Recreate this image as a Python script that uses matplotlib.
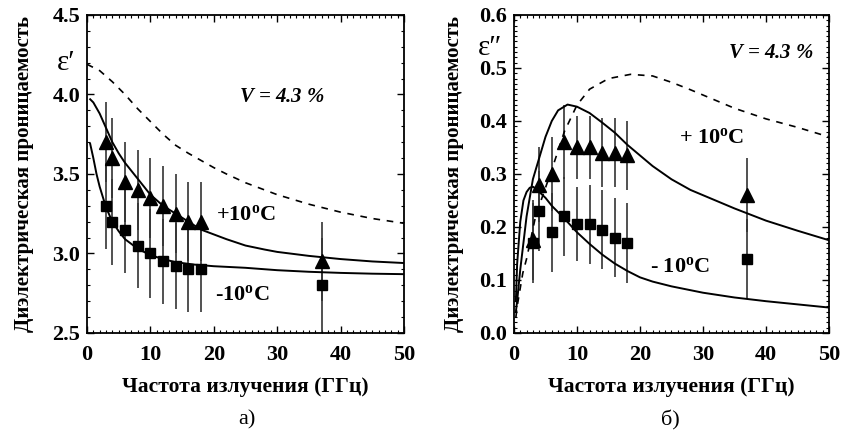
import matplotlib
matplotlib.use("Agg")
import matplotlib.pyplot as plt
from matplotlib.ticker import MultipleLocator, FormatStrFormatter

plt.rcParams['font.family'] = ['Liberation Serif', 'DejaVu Serif']
plt.rcParams['mathtext.fontset'] = 'custom'
plt.rcParams['mathtext.rm'] = 'Liberation Serif:bold'
plt.rcParams['mathtext.bf'] = 'Liberation Serif:bold'
plt.rcParams['mathtext.it'] = 'Liberation Serif:bold:italic'

# ---------------- data ----------------
freq_pts = [3, 4, 6, 8, 10, 12, 14, 16, 18, 37]

# panel a (real part)
a_plus_vals = [3.70, 3.60, 3.45, 3.40, 3.35, 3.30, 3.25, 3.20, 3.20, 2.95]
a_plus_err = [0.25, 0.25, 0.25, 0.25, 0.25, 0.25, 0.25, 0.25, 0.25, 0.25]
a_minus_vals = [3.30, 3.20, 3.15, 3.05, 3.00, 2.95, 2.92, 2.90, 2.90, 2.80]
a_minus_err = [0.27, 0.27, 0.27, 0.27, 0.28, 0.27, 0.27, 0.27, 0.27, 0.30]

a_plus_curve_f = [0.5, 1, 2, 3, 4, 5, 6, 8, 10, 12, 14, 16, 18, 20, 22, 25, 28, 30, 35, 40, 45, 50]
a_plus_curve_v = [3.97, 3.95, 3.88, 3.79, 3.70, 3.63, 3.57, 3.47, 3.37, 3.30, 3.25, 3.20, 3.15, 3.12, 3.09, 3.05, 3.025, 3.01, 2.985, 2.965, 2.95, 2.94]
a_minus_curve_f = [0.5, 1, 1.5, 2, 3, 4, 5, 6, 8, 10, 12, 14, 17, 20, 25, 30, 35, 40, 45, 50]
a_minus_curve_v = [3.69, 3.60, 3.50, 3.42, 3.29, 3.20, 3.14, 3.09, 3.03, 2.99, 2.965, 2.945, 2.93, 2.92, 2.91, 2.895, 2.885, 2.878, 2.873, 2.87]
a_dash_f = [0, 2, 4, 6, 8, 10, 12, 14, 16, 18, 20, 22, 25, 28, 30, 35, 40, 45, 50]
a_dash_v = [4.19, 4.15, 4.08, 4.00, 3.91, 3.83, 3.75, 3.68, 3.63, 3.585, 3.54, 3.50, 3.445, 3.40, 3.37, 3.31, 3.26, 3.22, 3.19]

# panel b (imaginary part)
b_plus_vals = [0.175, 0.28, 0.30, 0.36, 0.35, 0.35, 0.34, 0.34, 0.335, 0.26]
b_plus_err = [0.075, 0.07, 0.07, 0.07, 0.06, 0.06, 0.065, 0.065, 0.065, 0.07]
b_minus_vals = [0.17, 0.23, 0.19, 0.22, 0.205, 0.205, 0.195, 0.18, 0.17, 0.14]
b_minus_err = [0.075, 0.075, 0.075, 0.075, 0.07, 0.075, 0.075, 0.075, 0.075, 0.075]

b_plus_curve_f = [0.3, 0.5, 1, 1.5, 2, 3, 4, 5, 6, 7, 8.5, 10, 12, 14, 16, 18, 20, 22, 25, 28, 30, 35, 40, 45, 50]
b_plus_curve_v = [0.04, 0.06, 0.12, 0.17, 0.22, 0.29, 0.33, 0.37, 0.40, 0.42, 0.431, 0.427, 0.415, 0.397, 0.378, 0.355, 0.335, 0.315, 0.29, 0.27, 0.26, 0.235, 0.212, 0.193, 0.175]
b_minus_curve_f = [0.3, 0.5, 1, 1.5, 2, 2.5, 3, 3.5, 5, 6, 8, 10, 12, 14, 16, 18, 20, 22, 25, 30, 35, 40, 45, 50]
b_minus_curve_v = [0.06, 0.13, 0.21, 0.25, 0.266, 0.274, 0.276, 0.272, 0.255, 0.24, 0.216, 0.19, 0.168, 0.148, 0.131, 0.117, 0.105, 0.097, 0.088, 0.076, 0.067, 0.06, 0.054, 0.048]
b_dash_f = [0.3, 0.6, 1.4, 2, 3.3, 4, 6, 8, 10, 12, 15, 18.5, 22, 25, 28, 30, 33, 35, 40, 45, 50]
b_dash_v = [0.03, 0.057, 0.113, 0.14, 0.213, 0.24, 0.308, 0.38, 0.43, 0.46, 0.48, 0.488, 0.485, 0.473, 0.459, 0.449, 0.434, 0.424, 0.404, 0.388, 0.37]

# ---------------- figure ----------------
fig = plt.figure(figsize=(8.43, 4.37), dpi=100)
ax1 = fig.add_axes([0.1032, 0.238, 0.376, 0.7277])
ax2 = fig.add_axes([0.6097, 0.238, 0.3737, 0.7277])

err_kw = dict(fmt='none', ecolor='#333333', elinewidth=1.2, capsize=0)

def style(ax, ylabpad):
    ax.tick_params(which='both', direction='in', top=True, right=True)
    ax.tick_params(which='major', length=5, width=1.0, labelsize=16)
    ax.tick_params(axis='x', which='major', pad=9)
    ax.tick_params(axis='y', which='major', pad=5)
    ax.tick_params(which='minor', length=2.5, width=0.8)
    for s in ax.spines.values():
        s.set_linewidth(1.3)
    for lab in ax.get_xticklabels() + ax.get_yticklabels():
        lab.set_fontweight('bold')
    ax.set_xlabel('Частота излучения (ГГц)', fontsize=15.5, fontweight='bold', labelpad=8)
    ax.set_ylabel('Диэлектрическая проницаемость', fontsize=15, fontweight='bold', labelpad=ylabpad)

def panel(ax, pv, pe, mv, me, pf, pc, mf, mc, df, dc):
    ax.errorbar(freq_pts, pv, yerr=pe, **err_kw)
    ax.errorbar(freq_pts, mv, yerr=me, **err_kw)
    ax.plot(df, dc, color='black', lw=1.2, ls=(0, (4, 4)))
    ax.plot(pf, pc, color='black', lw=1.4)
    ax.plot(mf, mc, color='black', lw=1.4)
    ax.plot(freq_pts, pv, ls='none', marker='^', ms=10, color='black')
    ax.plot(freq_pts, mv, ls='none', marker='s', ms=7, color='black')
    ax.set_xlim(0, 50)
    ax.xaxis.set_major_locator(MultipleLocator(10))
    ax.xaxis.set_minor_locator(MultipleLocator(1))
    ax.yaxis.set_major_formatter(FormatStrFormatter('%.1f'))

# panel a
panel(ax1, a_plus_vals, a_plus_err, a_minus_vals, a_minus_err,
      a_plus_curve_f, a_plus_curve_v, a_minus_curve_f, a_minus_curve_v, a_dash_f, a_dash_v)
ax1.set_ylim(2.5, 4.5)
ax1.yaxis.set_major_locator(MultipleLocator(0.5))
ax1.yaxis.set_minor_locator(MultipleLocator(0.1))
style(ax1, 13)
ax1.text(0.615, 0.742, r'$\mathit{V}$ = 4.3 %', transform=ax1.transAxes, fontsize=15,
         fontweight='bold', fontstyle='italic', ha='center', va='center')
ax1.text(0.50, 0.371, r'+10$^{\rm o}$C', transform=ax1.transAxes, fontsize=16,
         fontweight='bold', ha='center', va='center')
ax1.text(0.49, 0.12, r'-10$^{\rm o}$C', transform=ax1.transAxes, fontsize=16,
         fontweight='bold', ha='center', va='center')
fig.text(66 / 843, 1 - 63 / 437, 'ε′', fontsize=21, ha='center', va='center')
fig.text(247 / 843, 1 - 420 / 437, 'а)', fontsize=16, ha='center', va='center')

# panel b
panel(ax2, b_plus_vals, b_plus_err, b_minus_vals, b_minus_err,
      b_plus_curve_f, b_plus_curve_v, b_minus_curve_f, b_minus_curve_v, b_dash_f, b_dash_v)
ax2.set_ylim(0, 0.6)
ax2.yaxis.set_major_locator(MultipleLocator(0.1))
ax2.yaxis.set_minor_locator(MultipleLocator(0.01))
style(ax2, 11)
ax2.text(0.816, 0.88, r'$\mathit{V}$ = 4.3 %', transform=ax2.transAxes, fontsize=15,
         fontweight='bold', fontstyle='italic', ha='center', va='center')
ax2.text(0.628, 0.613, r'+ 10$^{\rm o}$C', transform=ax2.transAxes, fontsize=16,
         fontweight='bold', ha='center', va='center')
ax2.text(0.527, 0.208, r'- 10$^{\rm o}$C', transform=ax2.transAxes, fontsize=16,
         fontweight='bold', ha='center', va='center')
fig.text(490 / 843, 1 - 48 / 437, 'ε″', fontsize=21, ha='center', va='center')
fig.text(670 / 843, 1 - 420 / 437, 'б)', fontsize=16, ha='center', va='center')

fig.savefig('out.png', dpi=100)
